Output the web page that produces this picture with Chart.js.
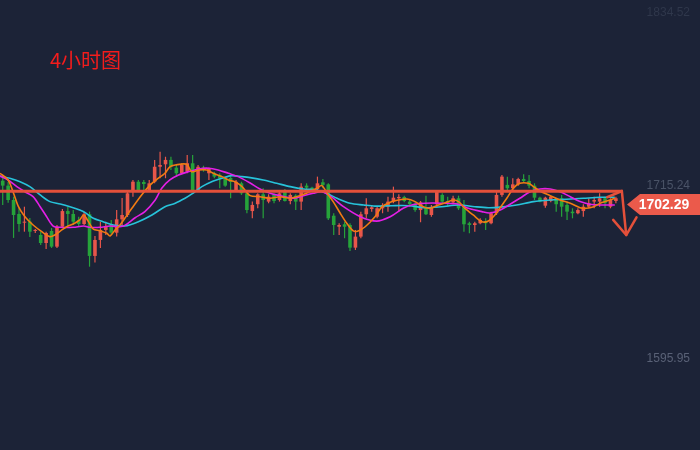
<!DOCTYPE html>
<html>
<head>
<meta charset="utf-8">
<script src="https://cdn.jsdelivr.net/npm/chart.js@4.4.0/dist/chart.umd.min.js"></script>
<style>
  body { margin: 0; background: #1c2337; }
  #wrap { position: relative; width: 700px; height: 450px; }
  #title {
    position: absolute; left: 50px; top: 47px;
    font: 20px "Noto Sans CJK SC", sans-serif; line-height: 26px;
    color: #f41c1c;
  }
</style>
</head>
<body>
<div id="wrap">
  <canvas id="kChart"></canvas>
  <div id="title">4小时图</div>
</div>
<script>
// 4h candles
const opens = [1718.7,1715.3,1705.4,1695.8,1689.8,1690.5,1684.1,1681.3,1675.8,1684.1,
  1673.3,1687.0,1697.8,1695.8,1691.7,1688.9,1695.6,1666.9,1677.9,1684.8,
  1688.2,1682.9,1692.1,1695.1,1712.3,1718.0,1717.8,1712.3,1718.0,1728.3,
  1730.0,1733.0,1727.7,1723.8,1724.9,1730.7,1712.3,1727.7,1723.8,1723.8,
  1722.6,1720.4,1720.6,1712.3,1716.9,1710.0,1697.8,1702.5,1709.3,1704.3,
  1709.3,1705.4,1711.1,1704.7,1708.4,1704.3,1715.3,1713.9,1713.0,1717.6,
  1716.2,1694.6,1687.0,1688.7,1688.2,1672.6,1680.2,1695.6,1699.2,1693.9,
  1699.7,1700.8,1704.3,1706.6,1707.5,1704.3,1702.5,1698.5,1700.1,1695.1,
  1702.5,1708.9,1704.7,1703.8,1706.6,1700.8,1689.4,1688.2,1689.4,1690.9,
  1689.4,1696.3,1708.9,1715.8,1713.5,1716.2,1719.9,1718.5,1715.3,1707.0,
  1701.5,1704.7,1705.9,1706.6,1702.0,1697.4,1696.3,1697.8,1700.8,1704.3,
  1704.3,1706.6,1700.8,1704.7];
const highs = [1721.5,1718.0,1707.7,1699.9,1700.8,1693.0,1685.5,1683.6,1683.6,1686.1,
  1688.2,1699.2,1700.8,1698.5,1693.9,1697.4,1697.4,1680.6,1690.5,1690.5,
  1691.7,1698.5,1706.8,1712.3,1719.2,1719.2,1719.2,1719.2,1733.0,1738.7,
  1735.2,1735.2,1729.5,1730.7,1736.4,1736.4,1729.5,1729.0,1727.7,1724.9,
  1723.8,1721.5,1721.5,1719.2,1718.0,1711.1,1704.3,1710.0,1713.5,1709.3,
  1710.0,1711.1,1713.0,1710.0,1709.3,1716.9,1716.9,1714.6,1721.5,1719.9,
  1716.9,1696.3,1689.4,1690.5,1689.4,1684.8,1697.4,1706.6,1702.0,1700.8,
  1703.2,1707.7,1714.6,1709.3,1708.4,1705.4,1703.8,1704.7,1708.4,1702.0,
  1711.6,1710.0,1707.7,1708.4,1708.4,1705.4,1690.5,1690.5,1692.8,1692.8,
  1697.4,1711.1,1722.6,1721.5,1720.4,1720.8,1723.1,1722.6,1716.9,1707.7,
  1707.7,1708.4,1706.6,1708.9,1704.3,1699.7,1699.7,1702.5,1706.6,1707.7,
  1710.0,1707.7,1706.6,1707.7];
const lows = [1702.0,1703.6,1679.3,1683.6,1683.6,1680.0,1682.7,1674.4,1671.7,1672.4,
  1672.4,1686.1,1687.5,1688.2,1687.0,1688.2,1659.5,1662.3,1672.4,1681.3,
  1681.3,1680.2,1687.0,1693.7,1707.7,1711.1,1710.2,1711.1,1716.9,1720.4,
  1720.4,1726.1,1721.5,1723.1,1723.8,1711.1,1711.1,1724.9,1719.2,1720.4,
  1713.5,1714.6,1706.6,1711.1,1708.9,1696.3,1692.8,1699.7,1692.8,1703.2,
  1703.2,1704.3,1704.3,1702.5,1698.5,1698.5,1712.3,1711.1,1711.1,1713.5,
  1691.7,1681.3,1681.3,1679.1,1670.3,1671.0,1679.1,1692.8,1697.4,1692.8,
  1696.3,1697.4,1703.2,1697.4,1703.8,1700.8,1697.4,1690.1,1695.1,1693.9,
  1700.1,1703.2,1700.8,1702.5,1698.5,1683.6,1682.5,1683.6,1688.7,1684.8,
  1688.7,1695.1,1707.7,1712.3,1712.3,1715.3,1717.6,1713.5,1705.4,1703.8,
  1700.1,1703.8,1697.4,1693.9,1691.7,1692.8,1695.6,1693.9,1699.7,1699.7,
  1700.8,1699.7,1699.7,1703.2];
const closes = [1715.3,1705.4,1695.1,1688.9,1690.5,1683.6,1684.8,1675.8,1682.7,1673.3,
  1687.0,1697.8,1695.8,1690.5,1688.9,1695.6,1666.9,1677.9,1684.8,1687.5,
  1682.9,1692.1,1695.1,1710.0,1718.0,1712.3,1716.4,1716.9,1728.3,1729.5,
  1733.0,1728.3,1723.8,1729.5,1730.7,1712.3,1728.3,1726.1,1726.8,1721.5,
  1720.4,1715.3,1717.8,1718.0,1710.0,1698.5,1702.0,1709.3,1705.4,1707.7,
  1704.7,1710.0,1704.7,1708.9,1704.3,1714.6,1713.9,1712.3,1716.9,1715.8,
  1692.8,1688.2,1688.2,1687.0,1672.6,1680.2,1695.6,1699.7,1700.4,1699.7,
  1702.0,1704.3,1707.0,1707.5,1704.7,1702.5,1698.5,1703.8,1695.6,1700.1,
  1711.1,1704.3,1703.2,1706.6,1699.7,1688.7,1688.2,1689.4,1691.7,1689.4,
  1696.3,1708.9,1721.5,1713.5,1716.2,1719.9,1718.5,1715.3,1707.0,1704.3,
  1707.0,1707.7,1702.5,1700.8,1697.4,1696.3,1698.5,1700.8,1703.2,1705.4,
  1706.6,1703.2,1705.4,1706.6];

// moving averages as [bar position, price]
const maFast = [[-0.5,1723.8],[1.0,1719.2],[2.0,1710.0],[2.9,1700.8],[4.1,1693.9],[5.6,1688.2],[7.2,1683.6],[8.7,1680.2],[9.6,1681.3],[10.9,1684.8],[11.8,1687.0],[13.0,1688.9],[14.2,1691.7],[14.9,1695.1],[15.8,1690.5],[16.7,1685.3],[17.9,1684.3],[19.2,1682.5],[19.8,1680.6],[20.7,1684.8],[21.6,1688.2],[22.5,1692.8],[23.8,1699.7],[25.6,1708.9],[27.2,1715.8],[28.7,1720.4],[29.9,1723.8],[30.8,1728.3],[31.8,1729.5],[33.9,1730.0],[34.8,1724.9],[36.1,1726.1],[37.6,1726.1],[38.8,1723.8],[40.4,1721.5],[41.6,1719.2],[42.8,1718.0],[44.1,1714.6],[45.6,1708.4],[47.4,1707.7],[49.3,1706.6],[51.1,1707.7],[53.0,1706.6],[54.8,1708.4],[56.6,1711.1],[57.9,1713.5],[58.8,1715.3],[59.8,1710.0],[60.9,1704.3],[62.2,1696.3],[63.4,1689.4],[64.6,1684.1],[65.5,1684.1],[66.8,1687.0],[68.6,1693.9],[69.9,1700.8],[71.4,1703.8],[72.9,1705.4],[74.5,1706.1],[76.0,1704.3],[77.5,1700.8],[78.8,1699.7],[80.3,1702.0],[81.8,1703.8],[83.0,1705.4],[84.0,1704.3],[85.2,1699.7],[86.7,1695.1],[88.3,1690.5],[89.5,1691.0],[90.7,1695.1],[91.7,1700.3],[92.9,1706.6],[94.1,1713.5],[95.3,1716.9],[96.9,1716.9],[97.8,1714.6],[99.0,1711.6],[100.9,1708.4],[102.7,1705.4],[104.6,1703.2],[106.4,1700.1],[107.6,1699.7],[108.9,1700.8],[110.1,1703.2],[111.3,1704.7],[112.8,1706.6]];
const maMid = [[-0.5,1721.9],[1.0,1719.2],[2.6,1714.6],[4.1,1711.1],[5.6,1707.7],[6.9,1700.8],[8.1,1693.9],[9.3,1687.5],[10.6,1686.6],[13.0,1686.6],[14.9,1687.5],[16.1,1686.6],[17.9,1686.6],[19.8,1687.5],[21.6,1687.0],[22.5,1687.9],[24.4,1693.2],[26.2,1697.4],[28.1,1705.4],[29.3,1713.5],[30.8,1719.2],[32.4,1722.6],[34.2,1724.9],[36.1,1726.8],[37.9,1727.3],[39.7,1726.1],[41.6,1723.8],[43.4,1721.5],[45.6,1717.1],[47.4,1713.0],[49.3,1710.0],[51.1,1708.4],[53.6,1706.6],[55.4,1708.4],[57.2,1710.0],[58.8,1711.1],[60.6,1707.5],[62.8,1700.8],[65.9,1693.9],[68.9,1690.9],[71.4,1693.9],[73.8,1699.7],[75.7,1702.3],[77.8,1703.2],[80.9,1703.2],[84.0,1702.5],[85.8,1699.7],[88.3,1697.4],[89.8,1696.5],[91.7,1698.5],[93.5,1702.5],[95.3,1706.6],[97.2,1711.1],[99.0,1713.0],[100.9,1713.0],[102.7,1711.1],[104.6,1707.7],[106.4,1704.3],[108.2,1702.5],[110.1,1702.0],[112.8,1702.0]];
const maSlow = [[-0.5,1721.9],[1.3,1720.4],[3.2,1718.0],[5.0,1714.6],[6.9,1708.9],[8.7,1704.3],[10.6,1702.7],[12.4,1700.8],[14.2,1698.5],[15.2,1696.7],[16.7,1692.8],[18.5,1690.5],[20.4,1688.2],[22.5,1687.5],[25.0,1690.5],[27.5,1695.1],[29.9,1700.8],[31.8,1703.2],[33.6,1706.6],[34.8,1709.4],[36.7,1714.6],[38.5,1718.0],[40.4,1720.4],[42.2,1722.2],[44.1,1721.5],[45.6,1720.8],[48.0,1719.2],[50.5,1716.9],[53.0,1714.6],[55.4,1713.0],[57.9,1712.3],[59.7,1710.0],[61.6,1706.6],[64.0,1703.2],[66.5,1702.0],[68.6,1701.2],[71.7,1701.5],[74.8,1701.5],[77.8,1700.1],[80.9,1700.8],[84.0,1702.0],[87.0,1700.8],[89.5,1700.1],[91.7,1700.5],[94.7,1702.0],[97.8,1704.3],[100.9,1705.4],[103.9,1705.9],[107.0,1706.6],[110.1,1707.3],[112.8,1707.3]];

const tickValues = [1834.52, 1715.24, 1595.95];
const lastPrice = 1702.29;
const resistance = 1711.4;
const resistanceSpan = [-0.5, 114.3];
const arrowShaft = [[111.4,1707.3],[114.1,1711.6],[114.9,1681.3]];
const arrowHead = [[112.5,1691.7],[114.9,1681.3],[116.8,1693.5]];

const RED = '#e8564a';
const GREEN = '#26a33a';
const LINE_RED = '#e4503a';

const candleColors = opens.map((o, i) => closes[i] >= o ? RED : GREEN);
const wickData = lows.map((l, i) => ({ x: i, y: [l, highs[i]] }));
const bodyData = opens.map((o, i) => ({ x: i, y: [o, closes[i]] }));
const toPts = (arr) => arr.map(p => ({ x: p[0], y: p[1] }));

const priceTag = {
  id: 'priceTag',
  afterDraw(chart) {
    const ctx = chart.ctx;
    const y = chart.scales.y.getPixelForValue(lastPrice);
    const right = chart.chartArea.right;
    const tip = right - 73, shoulder = right - 60, h = 10.5;
    ctx.save();
    ctx.fillStyle = '#eb5a4b';
    ctx.beginPath();
    ctx.moveTo(tip, y);
    ctx.lineTo(shoulder, y - h);
    ctx.lineTo(right, y - h);
    ctx.lineTo(right, y + h);
    ctx.lineTo(shoulder, y + h);
    ctx.closePath();
    ctx.fill();
    ctx.fillStyle = '#ffffff';
    ctx.font = 'bold 14px "Liberation Sans", Arial, sans-serif';
    ctx.textAlign = 'center';
    ctx.textBaseline = 'middle';
    ctx.fillText(lastPrice.toFixed(2), right - 36, y + 1);
    ctx.restore();
  }
};

const tickColors = ['#2f374b', '#4a5367', '#596176'];

new Chart(document.getElementById('kChart'), {
  type: 'bar',
  data: {
    datasets: [
      { type: 'line', data: resistanceSpan.map(x => ({ x, y: resistance })), borderColor: LINE_RED, borderWidth: 3, pointRadius: 0, order: 0 },
      { type: 'line', data: toPts(arrowShaft), borderColor: LINE_RED, borderWidth: 2.5, pointRadius: 0, borderCapStyle: 'round', borderJoinStyle: 'round', order: 0 },
      { type: 'line', data: toPts(arrowHead), borderColor: LINE_RED, borderWidth: 2.5, pointRadius: 0, borderCapStyle: 'round', borderJoinStyle: 'round', order: 0 },
      { type: 'line', data: toPts(maSlow), borderColor: '#27c3da', borderWidth: 1.6, pointRadius: 0, tension: 0.3, order: 3 },
      { type: 'line', data: toPts(maMid), borderColor: '#e41fe6', borderWidth: 1.6, pointRadius: 0, tension: 0.3, order: 2 },
      { type: 'line', data: toPts(maFast), borderColor: '#f27b12', borderWidth: 1.6, pointRadius: 0, tension: 0.3, order: 1 },
      { data: bodyData, backgroundColor: candleColors, grouped: false, maxBarThickness: 3.6, minBarLength: 1, order: 4 },
      { data: wickData, backgroundColor: candleColors, grouped: false, maxBarThickness: 1.2, order: 5 }
    ]
  },
  options: {
    responsive: true,
    maintainAspectRatio: false,
    animation: false,
    events: [],
    devicePixelRatio: 1,
    layout: { padding: 0 },
    plugins: { legend: { display: false }, tooltip: { enabled: false }, title: { display: false } },
    scales: {
      x: { type: 'linear', min: -0.5, max: 128.5, offset: false, display: false },
      y: {
        position: 'right',
        min: 1533.3,
        max: 1843.1,
        grid: { display: false, drawTicks: false },
        border: { display: false },
        afterBuildTicks: (s) => { s.ticks = tickValues.map(v => ({ value: v })); },
        afterFit: (s) => { s.width = 0; },
        ticks: {
          mirror: true,
          padding: -10,
          font: { family: '"Liberation Sans", Arial, sans-serif', size: 12 },
          color: (c) => tickColors[c.index],
          callback: (v) => Number(v).toFixed(2)
        }
      }
    }
  },
  plugins: [priceTag]
});
</script>
</body>
</html>
